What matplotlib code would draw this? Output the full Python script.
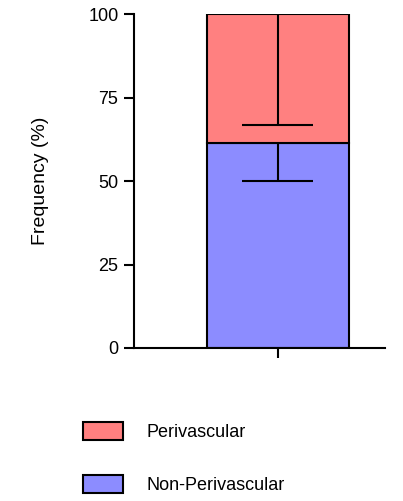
import matplotlib.pyplot as plt
from matplotlib.patches import Patch

plt.rcParams['font.family'] = ['Liberation Sans', 'DejaVu Sans']

# data
categorias = ["Non-Perivascular", "Perivascular"]
valores = [61.5, 38.5]
erros = [11.5, 33.3]
cores = ["#8C8CFF", "#FF8080"]
ticks_y = [0, 25, 50, 75, 100]

fig = plt.figure(figsize=(4.03, 5.01), dpi=100)
ax = fig.add_axes([0.3325, 0.3054, 0.6225, 0.6666])

lw = 1.5
base = 0
for nome, v, e, c in zip(categorias, valores, erros, cores):
    ax.bar(0, v, bottom=base, width=1.0, color=c, edgecolor="black",
           linewidth=lw, zorder=2)
    topo = base + v
    ax.errorbar(0, topo, yerr=[[e], [0]], fmt="none", ecolor="black",
                elinewidth=lw, capsize=0, zorder=3)
    ax.plot([-0.25, 0.25], [topo - e, topo - e], color="black", lw=lw,
            zorder=3, solid_capstyle="butt")
    base = topo

ax.set_xlim(-1.014, 0.754)
ax.set_ylim(0, 100)
ax.set_yticks(ticks_y)
ax.set_yticklabels([str(t) for t in ticks_y], fontsize=13)
ax.set_xticks([0])
ax.set_xticklabels([""])
ax.tick_params(axis="both", length=7.2, width=lw, pad=4)
ax.spines["top"].set_visible(False)
ax.spines["right"].set_visible(False)
ax.spines["left"].set_linewidth(lw)
ax.spines["bottom"].set_linewidth(lw)
ax.set_ylabel("Frequency (%)", fontsize=14, labelpad=28)

handles = [Patch(facecolor=cores[1], edgecolor="black", linewidth=lw, label=categorias[1]),
           Patch(facecolor=cores[0], edgecolor="black", linewidth=lw, label=categorias[0])]
fig.legend(handles=handles, loc="upper left", bbox_to_anchor=(0.184, 0.175),
           frameon=False, fontsize=13, handlelength=2.2, handleheight=1.1,
           labelspacing=1.9, handletextpad=1.3, borderpad=0)

fig.savefig("out.png", dpi=100)
